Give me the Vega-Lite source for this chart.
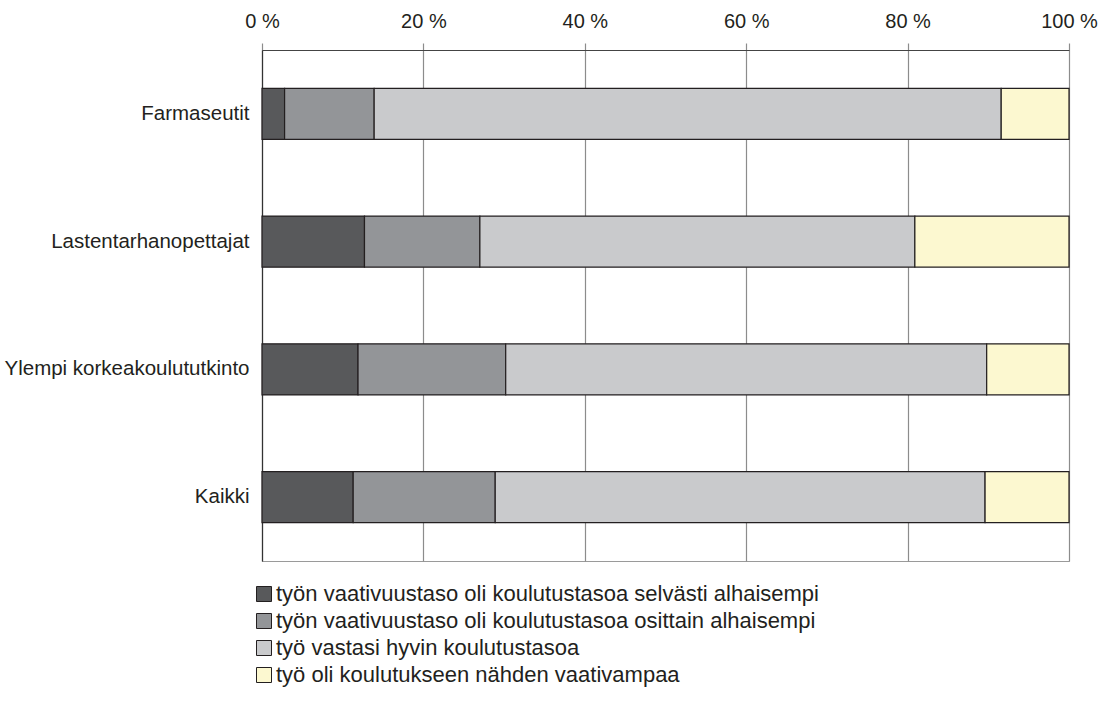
{
  "$schema": "https://vega.github.io/schema/vega-lite/v6.json",
  "width": 807,
  "height": 511,
  "autosize": {"type": "none"},
  "padding": {"left": 262, "top": 50, "right": 32, "bottom": 141},
  "background": "white",
  "config": {
    "font": "Liberation Sans",
    "view": {"stroke": "#9a9a9a", "strokeWidth": 1}
  },
  "data": {
    "values": [
      {"ryhma": "Farmaseutit", "k": 1, "luokka": "työn vaativuustaso oli koulutustasoa selvästi alhaisempi", "osuus": 2.8},
      {"ryhma": "Farmaseutit", "k": 2, "luokka": "työn vaativuustaso oli koulutustasoa osittain alhaisempi", "osuus": 11.1},
      {"ryhma": "Farmaseutit", "k": 3, "luokka": "työ vastasi hyvin koulutustasoa", "osuus": 77.7},
      {"ryhma": "Farmaseutit", "k": 4, "luokka": "työ oli koulutukseen nähden vaativampaa", "osuus": 8.4},
      {"ryhma": "Lastentarhanopettajat", "k": 1, "luokka": "työn vaativuustaso oli koulutustasoa selvästi alhaisempi", "osuus": 12.7},
      {"ryhma": "Lastentarhanopettajat", "k": 2, "luokka": "työn vaativuustaso oli koulutustasoa osittain alhaisempi", "osuus": 14.3},
      {"ryhma": "Lastentarhanopettajat", "k": 3, "luokka": "työ vastasi hyvin koulutustasoa", "osuus": 53.9},
      {"ryhma": "Lastentarhanopettajat", "k": 4, "luokka": "työ oli koulutukseen nähden vaativampaa", "osuus": 19.1},
      {"ryhma": "Ylempi korkeakoulututkinto", "k": 1, "luokka": "työn vaativuustaso oli koulutustasoa selvästi alhaisempi", "osuus": 11.9},
      {"ryhma": "Ylempi korkeakoulututkinto", "k": 2, "luokka": "työn vaativuustaso oli koulutustasoa osittain alhaisempi", "osuus": 18.3},
      {"ryhma": "Ylempi korkeakoulututkinto", "k": 3, "luokka": "työ vastasi hyvin koulutustasoa", "osuus": 59.6},
      {"ryhma": "Ylempi korkeakoulututkinto", "k": 4, "luokka": "työ oli koulutukseen nähden vaativampaa", "osuus": 10.2},
      {"ryhma": "Kaikki", "k": 1, "luokka": "työn vaativuustaso oli koulutustasoa selvästi alhaisempi", "osuus": 11.3},
      {"ryhma": "Kaikki", "k": 2, "luokka": "työn vaativuustaso oli koulutustasoa osittain alhaisempi", "osuus": 17.6},
      {"ryhma": "Kaikki", "k": 3, "luokka": "työ vastasi hyvin koulutustasoa", "osuus": 60.7},
      {"ryhma": "Kaikki", "k": 4, "luokka": "työ oli koulutukseen nähden vaativampaa", "osuus": 10.4}
    ]
  },
  "mark": {"type": "bar", "stroke": "#231f20", "strokeWidth": 1.2},
  "encoding": {
    "y": {
      "field": "ryhma",
      "type": "nominal",
      "sort": ["Farmaseutit", "Lastentarhanopettajat", "Ylempi korkeakoulututkinto", "Kaikki"],
      "scale": {"paddingInner": 0.6, "paddingOuter": 0.3},
      "axis": {
        "title": null,
        "ticks": false,
        "domain": true,
        "domainColor": "#333333",
        "domainWidth": 1.2,
        "labelFontSize": 20.5,
        "labelColor": "#231f20",
        "labelPadding": 13,
        "labelLimit": 400
      }
    },
    "x": {
      "field": "osuus",
      "type": "quantitative",
      "stack": "zero",
      "scale": {"domain": [0, 100], "nice": false},
      "axis": {
        "orient": "top",
        "title": null,
        "values": [0, 20, 40, 60, 80, 100],
        "labelExpr": "datum.value + ' %'",
        "labelFlush": false,
        "labelOverlap": false,
        "labelFontSize": 20,
        "labelColor": "#231f20",
        "labelPadding": 12,
        "tickSize": 7,
        "tickColor": "#8c8c8c",
        "tickWidth": 1.2,
        "domain": true,
        "domainColor": "#444444",
        "domainWidth": 1.2,
        "grid": true,
        "gridColor": "#8c8c8c",
        "gridWidth": 1.2,
        "gridOpacity": 1
      }
    },
    "color": {
      "field": "luokka",
      "type": "nominal",
      "scale": {
        "domain": [
          "työn vaativuustaso oli koulutustasoa selvästi alhaisempi",
          "työn vaativuustaso oli koulutustasoa osittain alhaisempi",
          "työ vastasi hyvin koulutustasoa",
          "työ oli koulutukseen nähden vaativampaa"
        ],
        "range": ["#58595b", "#939598", "#c9cacc", "#fcf8d0"]
      },
      "legend": {
        "title": null,
        "orient": "none",
        "legendX": -9,
        "legendY": 533,
        "symbolType": "square",
        "symbolSize": 225,
        "symbolStrokeColor": "#231f20",
        "symbolStrokeWidth": 1,
        "symbolOpacity": 1,
        "labelFontSize": 22,
        "labelColor": "#231f20",
        "labelLimit": 800,
        "labelOffset": 1,
        "rowPadding": 5
      }
    },
    "order": {"field": "k", "type": "quantitative"}
  }
}
